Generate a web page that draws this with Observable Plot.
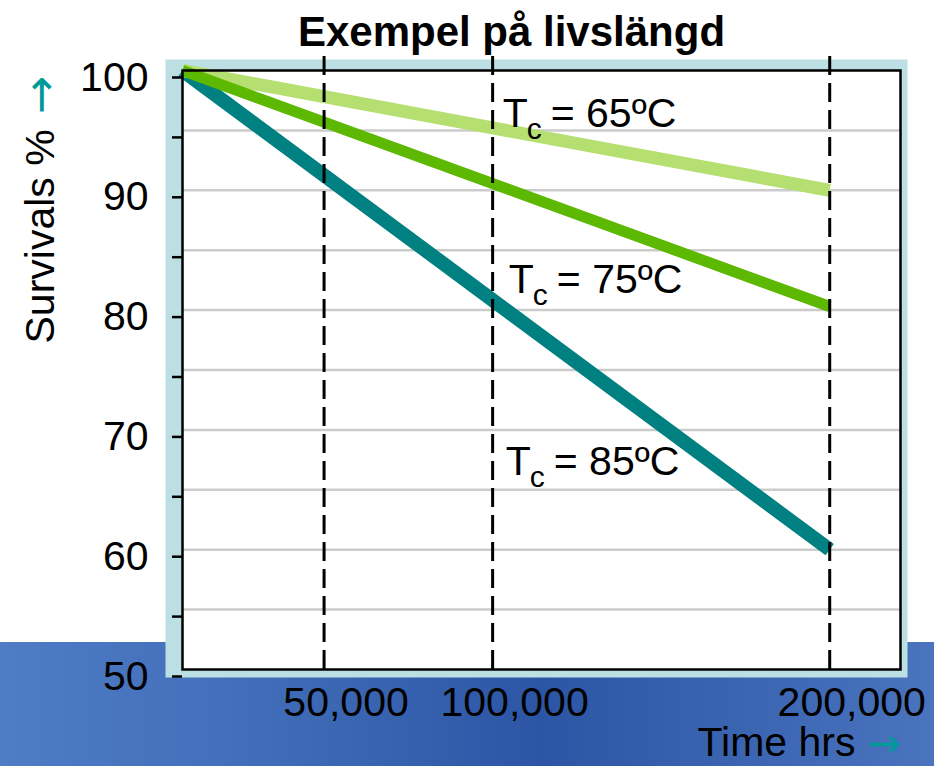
<!DOCTYPE html>
<html>
<head>
<meta charset="utf-8">
<script src="https://cdn.jsdelivr.net/npm/d3@7"></script>
<script src="https://cdn.jsdelivr.net/npm/@observablehq/plot@0.6"></script>
<style>
  html, body { margin: 0; padding: 0; background: #ffffff; }
  #chart {
    position: relative;
    width: 934px;
    height: 766px;
    overflow: hidden;
    background:
      linear-gradient(#ffffff, #ffffff) top left / 100% 642px no-repeat,
      linear-gradient(90deg, #4e7cc5 0%, #4570bb 22%, #3560ad 45%, #2c55a5 58%, #3861ae 75%, #4a74be 100%);
  }
  #chart svg { display: block; }
</style>
</head>
<body>
<div id="chart"></div>
<script>
// ---- data ----
const hours = [8000, 200000];            // start (left edge) and end of each curve
const survival65 = [100, 90];
const survival75 = [100, 80.3];
const survival85 = [100, 60];
const seriesNames = ["85", "65", "75"];   // drawing order
const seriesColors = { "65": "#b6df72", "75": "#5cb800", "85": "#008080" };
const seriesWidths = { "65": 13, "75": 11, "85": 14 };

const xTicks = [50000, 100000, 200000];
const yTicks = [50, 55, 60, 65, 70, 75, 80, 85, 90, 95, 100];
const gridValues = [55, 60, 65, 70, 75, 80, 85, 90, 95];

const labelTemps = ["65", "75", "85"];
const labelX = [103000, 104800, 103900];
const labelY = [95.25, 81.4, 66.25];

const titleText = "Exempel på livslängd";
const yLabelText = "Survivals %";
const xLabelText = "Time hrs";

// ---- build tables ----
const valuesBySeries = { "65": survival65, "75": survival75, "85": survival85 };
const rows = seriesNames.flatMap(s => hours.map((h, i) => ({ series: s, hours: h, value: valuesBySeries[s][i] })));
const labels = labelTemps.map((t, i) => ({ t, x: labelX[i], y: labelY[i] }));

const font = "'Liberation Sans', Arial, Helvetica, sans-serif";
const arrowFont = "'DejaVu Sans', sans-serif";
const fs = 41;

const lineMarks = seriesNames.map(s =>
  Plot.line(rows.filter(r => r.series === s), {
    x: "hours", y: "value",
    stroke: seriesColors[s], strokeWidth: seriesWidths[s], strokeLinecap: "butt"
  })
);

const chart = Plot.plot({
  width: 934,
  height: 766,
  marginLeft: 182,
  marginRight: 34,
  marginTop: 70,
  marginBottom: 97,
  style: { background: "transparent", fontFamily: font, color: "#000" },
  x: { domain: [8000, 221000] },
  y: { domain: [50, 100] },
  marks: [
    // teal panel and white plot area
    Plot.frame({ fill: "#bbdfe2", stroke: null, insetLeft: -17, insetTop: -11, insetRight: -7, insetBottom: -8 }),
    Plot.frame({ fill: "#ffffff", stroke: null }),
    Plot.ruleY(gridValues, { stroke: "#cccccc", strokeWidth: 2.5 }),
    ...lineMarks,
    Plot.ruleX(xTicks, { y1: 50, y2: 101.6, stroke: "#000", strokeWidth: 3, strokeDasharray: "19,8" }),
    Plot.frame({ stroke: "#000", strokeWidth: 2.5 }),
    Plot.axisY({
      ticks: yTicks, tickSize: 10, tickPadding: 24, strokeWidth: 2.5,
      tickFormat: d => d % 10 === 0 ? String(d) : "",
      fontSize: fs, dy: 7, label: null
    }),
    Plot.axisX({
      ticks: xTicks, tickSize: 0, tickPadding: 17,
      tickFormat: d3.format(","), fontSize: fs, dx: 22, label: null
    }),
    // curve labels: T, subscript c, "= xxºC"
    Plot.text(labels, { x: "x", y: "y", text: () => "T", fontSize: fs, textAnchor: "start", lineAnchor: "bottom", fill: "#000" }),
    Plot.text(labels, { x: "x", y: "y", text: () => "c", fontSize: 30, textAnchor: "start", lineAnchor: "bottom", dx: 24, dy: 12, fill: "#000" }),
    Plot.text(labels, { x: "x", y: "y", text: d => "= " + d.t + "ºC", fontSize: fs, textAnchor: "start", lineAnchor: "bottom", dx: 48, fill: "#000" }),
    // title
    Plot.text([titleText], { frameAnchor: "top", text: d => d, fontSize: 42, fontWeight: "bold", lineAnchor: "bottom", dx: -30, dy: -25, fill: "#000" }),
    // y label
    Plot.text([yLabelText], { frameAnchor: "left", text: d => d, fontSize: fs, rotate: -90, textAnchor: "start", lineAnchor: "bottom", dx: -129, dy: -26.5, fill: "#000" }),
    Plot.text(["→"], { frameAnchor: "left", text: d => d, fontFamily: arrowFont, fontSize: 46, rotate: -90, textAnchor: "start", lineAnchor: "middle", dx: -141, dy: -256, fill: "#009999" }),
    // x label
    Plot.text([xLabelText], { frameAnchor: "bottom-right", text: d => d, fontSize: fs, textAnchor: "end", lineAnchor: "bottom", dx: -45, dy: 86, fill: "#000" }),
    Plot.text(["→"], { frameAnchor: "bottom-right", text: d => d, fontFamily: arrowFont, fontSize: 40, textAnchor: "start", lineAnchor: "middle", dx: -33, dy: 75, fill: "#009999" })
  ]
});

document.getElementById("chart").appendChild(chart);
</script>
</body>
</html>
